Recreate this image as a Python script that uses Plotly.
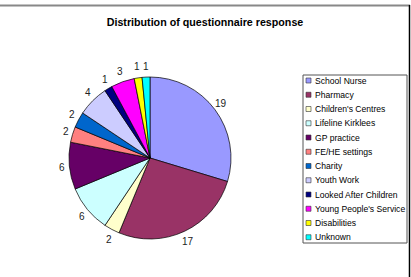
import math
import plotly.graph_objects as go

categories = ["School Nurse", "Pharmacy", "Children's Centres", "Lifeline Kirklees",
              "GP practice", "FE/HE settings", "Charity", "Youth Work",
              "Looked After Children", "Young People's Service", "Disabilities", "Unknown"]
values = [19, 17, 2, 6, 6, 2, 2, 4, 1, 3, 1, 1]
colors = ["#9999FF", "#993366", "#FFFFCC", "#CCFFFF", "#660066", "#FF8080",
          "#0066CC", "#CCCCFF", "#000080", "#FF00FF", "#FFFF00", "#00FFFF"]

W, H = 411, 277
cx, cy, r = 150, 158, 81
FONT = "Arial, Liberation Sans, sans-serif"

fig = go.Figure(go.Pie(
    labels=categories, values=values, sort=False, direction="clockwise", rotation=0,
    marker=dict(colors=colors, line=dict(color="black", width=0.7)),
    textinfo="none", showlegend=False,
    domain=dict(x=[(cx - r) / W, (cx + r) / W], y=[1 - (cy + r) / H, 1 - (cy - r) / H]),
    hoverinfo="label+value",
))

annotations = []
shapes = []

# value labels around the pie, placed at each slice's mid-angle
total = sum(values)
cum = 0
lrx, lry = r + 7, r + 11
for v in values:
    mid = (cum + v / 2) / total * 2 * math.pi
    cum += v
    px = cx + lrx * math.sin(mid)
    py = cy - lry * math.cos(mid)
    annotations.append(dict(x=px / W, y=1 - py / H, xref="paper", yref="paper", text=str(v),
                            showarrow=False, xanchor="center", yanchor="middle",
                            font=dict(family=FONT, size=10, color="#222222")))

# legend box
lx0, lx1, ly0, ly1 = 303, 407, 75, 243
shapes.append(dict(type="rect", xref="paper", yref="paper", x0=lx0 / W, x1=lx1 / W,
                   y0=1 - ly1 / H, y1=1 - ly0 / H, line=dict(color="#555555", width=1),
                   fillcolor="white", layer="below"))
step = 14.25
for i, (cat, col) in enumerate(zip(categories, colors)):
    yc = 80.5 + i * step
    shapes.append(dict(type="rect", xref="paper", yref="paper", x0=306 / W, x1=311 / W,
                       y0=1 - (yc + 2.5) / H, y1=1 - (yc - 2.5) / H,
                       line=dict(color="#333333", width=0.6), fillcolor=col))
    annotations.append(dict(x=312.5 / W, y=1 - yc / H, xref="paper", yref="paper", text=cat,
                            showarrow=False, xanchor="left", yanchor="middle",
                            font=dict(family=FONT, size=8.6, color="black")))

# outer frame lines
shapes.append(dict(type="line", xref="paper", yref="paper", x0=0, x1=410 / W,
                   y0=1 - 5.5 / H, y1=1 - 5.5 / H, line=dict(color="#888888", width=2)))
shapes.append(dict(type="line", xref="paper", yref="paper", x0=409.5 / W, x1=409.5 / W,
                   y0=0, y1=1 - 5 / H, line=dict(color="black", width=1.5)))

fig.update_layout(
    width=W, height=H, margin=dict(l=0, r=0, t=0, b=0),
    paper_bgcolor="white", plot_bgcolor="white", showlegend=False,
    title=dict(text="<b>Distribution of questionnaire response</b>", x=205 / W, xanchor="center",
               y=1 - 22 / H, yanchor="middle",
               font=dict(family=FONT, size=10.7, color="black")),
    annotations=annotations, shapes=shapes,
)

fig.write_html("out.html")
